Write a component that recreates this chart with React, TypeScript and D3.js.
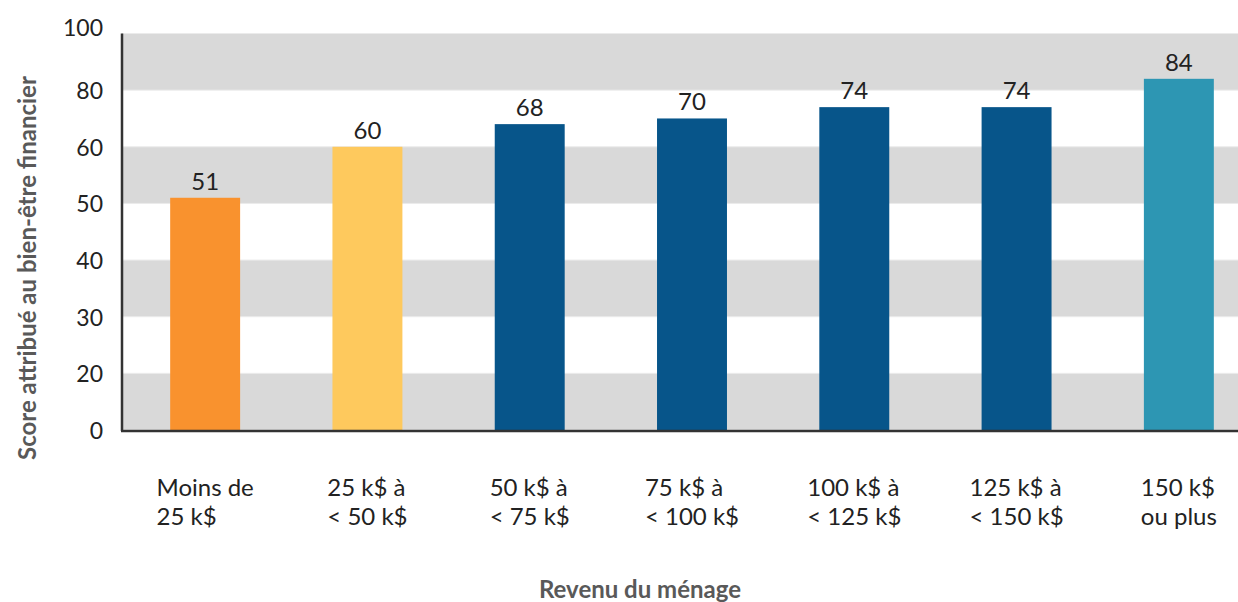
import React from "react";
import * as d3 from "d3";

const categories: string[][] = [
  ["Moins de", "25 k$"],
  ["25 k$ à", "< 50 k$"],
  ["50 k$ à", "< 75 k$"],
  ["75 k$ à", "< 100 k$"],
  ["100 k$ à", "< 125 k$"],
  ["125 k$ à", "< 150 k$"],
  ["150 k$", "ou plus"],
];
const values: number[] = [51, 60, 68, 70, 74, 74, 84];
const barColors: string[] = ["#F9922E", "#FEC95D", "#07558A", "#07558A", "#07558A", "#07558A", "#2D96B3"];
const yTicks: number[] = [0, 20, 30, 40, 50, 60, 80, 100];
const yTitle = "Score attribué au bien-être financier";
const xTitle = "Revenu du ménage";

const W = 1238;
const H = 602;
const FONT = "Lato, 'Noto Sans', sans-serif";

let ctx: CanvasRenderingContext2D | null = null;
function measure(text: string, font: string): number {
  if (!ctx) ctx = document.createElement("canvas").getContext("2d");
  if (!ctx) return text.length * 10;
  ctx.font = font;
  return ctx.measureText(text).width;
}

export default function App() {
  const left = 122;
  const top = 33.5;
  const bottom = 430;
  const y = d3
    .scaleLinear()
    .domain(yTicks)
    .range(yTicks.map((_, i) => bottom - (i * (bottom - top)) / (yTicks.length - 1)));
  const x = d3
    .scaleBand<number>()
    .domain(values.map((_, i) => i))
    .range([124, 1260])
    .paddingInner(0.569)
    .paddingOuter(0.2845);

  const bands: [number, number][] = [];
  for (let i = 0; i < yTicks.length - 1; i++) {
    if ((yTicks.length - 2 - i) % 2 === 0) bands.push([yTicks[i], yTicks[i + 1]]);
  }

  const catSize = 24;

  return (
    <svg
      width={W}
      height={H}
      style={{ position: "absolute", left: 0, top: 0, background: "#fff" }}
      fontFamily={FONT}
    >
      {bands.map(([a, b], i) => (
        <rect key={i} x={left} y={y(b)} width={W - left} height={y(a) - y(b)} fill="#D9D9D9" />
      ))}
      {yTicks.map((t, i) => (
        <line key={"g" + i} x1={left} x2={W} y1={y(t)} y2={y(t)} stroke="#EBEBEB" strokeWidth={1} />
      ))}
      {values.map((v, i) => (
        <rect
          key={"b" + i}
          x={x(i)}
          y={y(v)}
          width={x.bandwidth()}
          height={y(0) - y(v)}
          fill={barColors[i]}
        />
      ))}
      {values.map((v, i) => (
        <text
          key={"v" + i}
          x={(x(i) as number) + x.bandwidth() / 2}
          y={y(v) - 8}
          textAnchor="middle"
          fontSize={24}
          fill="#222"
        >
          {v}
        </text>
      ))}
      <line x1={left} x2={left} y1={top} y2={bottom + 1} stroke="#333" strokeWidth={2.5} />
      <line x1={left - 1} x2={W} y1={bottom + 1} y2={bottom + 1} stroke="#333" strokeWidth={2.5} />
      {yTicks.map((t, i) => (
        <text
          key={"t" + i}
          x={103}
          y={t === yTicks[yTicks.length - 1] ? y(t) - 7 : y(t)}
          textAnchor="end"
          dominantBaseline="central"
          fontSize={23}
          fill="#222"
        >
          {t}
        </text>
      ))}
      {categories.map((lines, i) => {
        const font = `${catSize}px ${FONT}`;
        const bw = Math.max(...lines.map((l) => measure(l, font)));
        const cx = (x(i) as number) + x.bandwidth() / 2;
        return (
          <text key={"c" + i} fontSize={catSize} fill="#222">
            {lines.map((l, j) => (
              <tspan key={j} x={cx - bw / 2} y={496 + j * 29}>
                {l}
              </tspan>
            ))}
          </text>
        );
      })}
      <text
        x={640}
        y={598}
        textAnchor="middle"
        fontSize={24}
        fontWeight="bold"
        fill="#595959"
      >
        {xTitle}
      </text>
      <text
        transform={`translate(36, 268) rotate(-90)`}
        textAnchor="middle"
        fontSize={24}
        fontWeight="bold"
        fill="#595959"
      >
        {yTitle}
      </text>
    </svg>
  );
}
